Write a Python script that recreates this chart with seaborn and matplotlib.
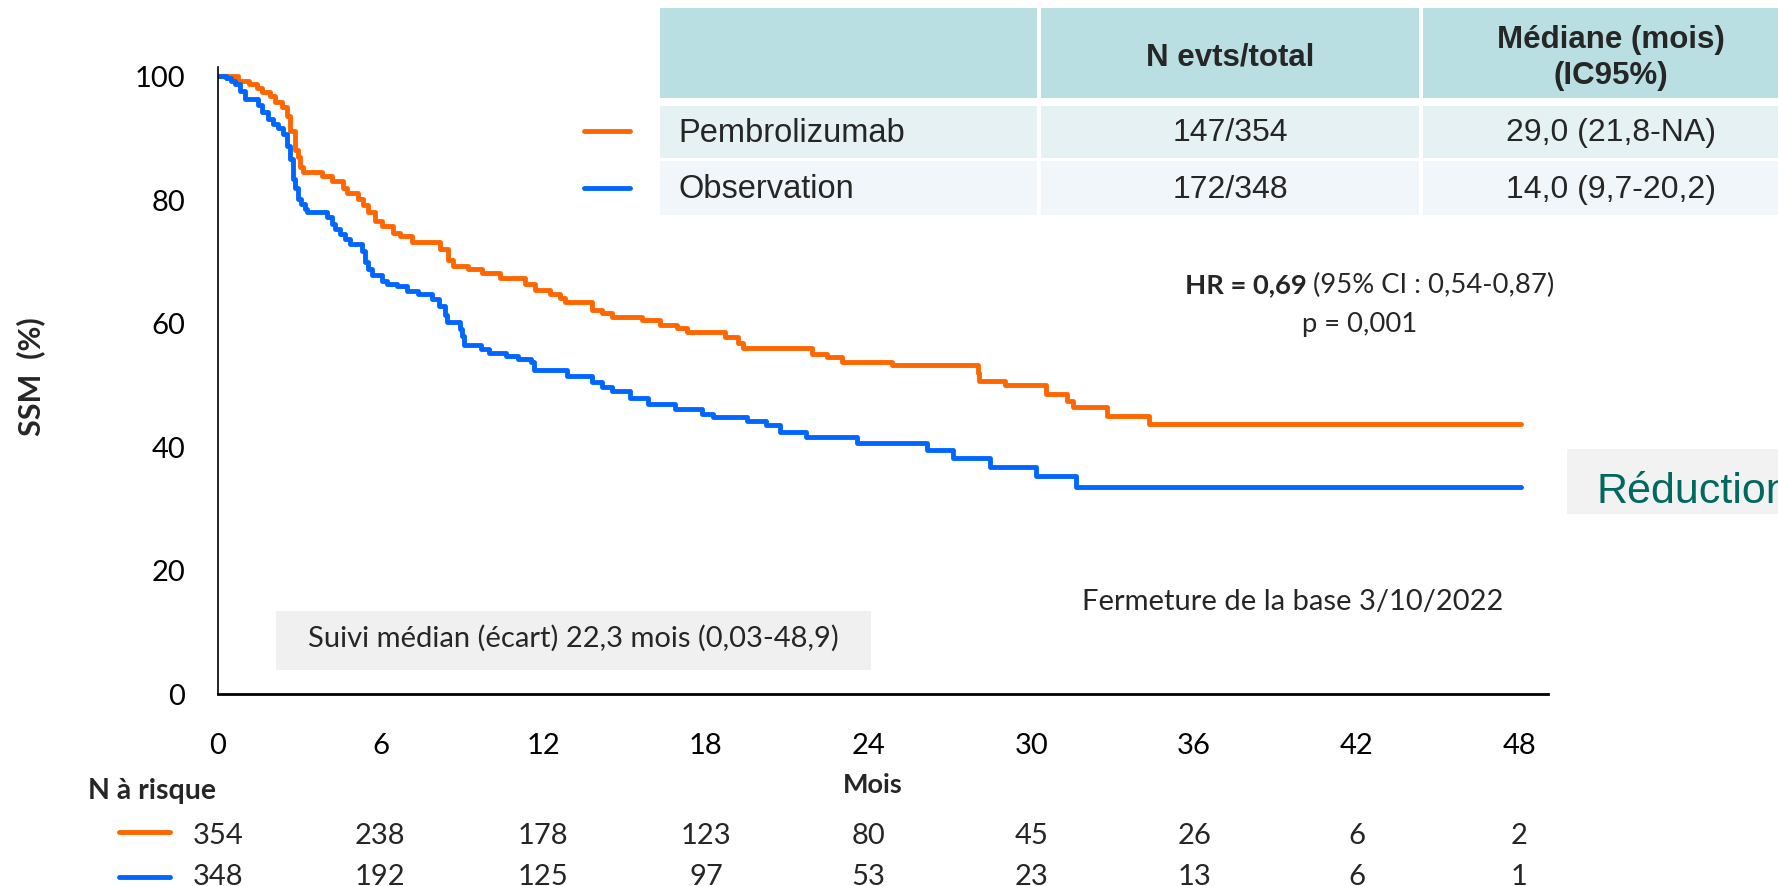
import numpy as np
import pandas as pd
import matplotlib
matplotlib.use("Agg")
import matplotlib.pyplot as plt
from matplotlib.patches import Rectangle
from matplotlib.lines import Line2D
from matplotlib.transforms import blended_transform_factory
import seaborn as sns

# ---- Kaplan-Meier curves (months, % survie sans métastase) ----
pembro_t = [0, 0.75, 1.15, 1.45, 1.62, 1.93, 2.11, 2.36, 2.57, 2.67, 2.85, 2.97, 3.03, 3.16,
            3.83, 4.20, 4.63, 4.76, 5.19, 5.37, 5.56, 5.80, 6.05, 6.48, 6.72, 7.15, 8.20, 8.50,
            8.69, 9.24, 9.73, 10.41, 11.33, 11.70, 12.25, 12.62, 12.81, 13.79, 14.16, 14.53,
            15.63, 16.31, 16.92, 17.29, 18.71, 19.20, 19.38, 21.90, 22.46, 23.01, 24.87, 28.02,
            28.08, 29.03, 30.54, 31.33, 31.53, 32.78, 34.32, 48.05]
pembro_s = [100, 99.2, 98.7, 98.0, 97.4, 96.7, 95.7, 94.9, 93.5, 91.1, 87.9, 86.8, 85.2, 84.4,
            83.8, 83.0, 81.9, 81.0, 80.0, 79.0, 77.9, 76.5, 75.7, 74.6, 74.1, 73.1, 71.9, 70.1,
            69.2, 68.7, 68.1, 67.2, 66.3, 65.3, 64.6, 64.0, 63.3, 62.0, 61.6, 61.0,
            60.5, 59.6, 59.1, 58.5, 57.7, 56.8, 55.9, 55.0, 54.4, 53.7, 53.1, 51.9,
            50.6, 50.0, 48.5, 47.4, 46.3, 45.0, 43.6, 43.6]

obs_t = [0, 0.30, 0.50, 0.64, 0.82, 1.01, 1.50, 1.65, 1.85, 2.05, 2.24, 2.40, 2.55, 2.67,
         2.77, 2.86, 2.96, 3.06, 3.22, 3.31, 4.02, 4.20, 4.33, 4.51, 4.69, 4.88, 5.31, 5.43,
         5.56, 5.68, 6.05, 6.23, 6.60, 6.97, 7.40, 7.89, 8.17, 8.38, 8.45, 8.94, 9.01, 9.08,
         9.72, 10.0, 10.64, 11.06, 11.55, 11.68, 12.87, 13.79, 14.16, 14.53, 15.20, 15.88,
         16.86, 17.85, 18.25, 19.51, 20.20, 20.75, 21.70, 23.58, 26.15, 27.11, 28.47, 30.17,
         31.65, 48.05]
obs_s = [100, 99.7, 99.2, 98.6, 97.6, 96.2, 95.2, 94.2, 93.0, 92.2, 91.5, 90.6, 88.6, 86.5,
         83.3, 81.8, 80.1, 79.2, 78.5, 77.9, 77.1, 76.0, 75.2, 74.4, 73.6, 72.8, 71.7, 69.8,
         68.7, 67.7, 66.8, 66.3, 65.9, 65.2, 64.7, 63.9, 62.8, 61.2, 60.1, 59.0, 57.9, 56.4,
         55.7, 55.2, 54.7, 54.1, 53.6, 52.3, 51.4, 50.4, 49.6, 48.9, 47.9, 46.9,
         46.1, 45.2, 44.7, 44.1, 43.4, 42.3, 41.5, 40.6, 39.4, 38.1, 36.6, 35.2,
         33.4, 33.4]

arms = ["Pembrolizumab", "Observation"]
arm_colors = {"Pembrolizumab": "#FF6600", "Observation": "#0066FF"}

# ---- Summary table ----
table_header = ["N evts/total", "Médiane (mois)\n(IC95%)"]
events_total = ["147/354", "172/348"]
median_ci = ["29,0 (21,8-NA)", "14,0 (9,7-20,2)"]

# ---- Numbers at risk ----
risk_months = [0, 6, 12, 18, 24, 30, 36, 42, 48]
risk_pembro = [354, 238, 178, 123, 80, 45, 26, 6, 2]
risk_obs = [348, 192, 125, 97, 53, 23, 13, 6, 1]

y_ticks = [0, 20, 40, 60, 80, 100]

df = pd.concat([
    pd.DataFrame({"Mois": pembro_t, "SSM": pembro_s, "Bras": arms[0]}),
    pd.DataFrame({"Mois": obs_t, "SSM": obs_s, "Bras": arms[1]}),
], ignore_index=True)

sns.set_theme(style="white")
plt.rcParams["font.family"] = ["Lato", "DejaVu Sans"]

W, H = 1778, 887
fig = plt.figure(figsize=(W / 100, H / 100), dpi=100)


def fx(x):
    return x / W


def fy(y):
    return 1 - y / H


ax = fig.add_axes([fx(217.7), fy(694.5), fx(1548) - fx(217.7), fy(68.1) - fy(694.5)])

sns.lineplot(data=df, x="Mois", y="SSM", hue="Bras", palette=arm_colors,
             drawstyle="steps-post", linewidth=3.5, estimator=None, sort=False,
             legend=False, ax=ax)

ax.set_xlim(0, 49.05)
ax.set_ylim(0, 101.4)
ax.set_xticks(risk_months)
ax.set_yticks(y_ticks)
ax.set_xlabel("")
ax.set_ylabel("")
ax.tick_params(axis="both", direction="out", length=14.5, width=1.0, color="black",
               labelsize=21, labelcolor="black")
ax.tick_params(axis="x", pad=13)
ax.tick_params(axis="y", pad=9)
for side in ["top", "right"]:
    ax.spines[side].set_visible(False)
ax.spines["left"].set_linewidth(1.2)
ax.spines["bottom"].set_linewidth(2.0)
ax.spines["left"].set_color("black")
ax.spines["bottom"].set_color("black")
ax.set_facecolor("white")

# axis titles
fig.text(fx(31), fy(377), "SSM  (%)", rotation=90, ha="center", va="center",
         fontsize=22, fontweight="bold")
fig.text(fx(873), fy(793), "Mois", ha="center", va="baseline", fontsize=19.5, fontweight="bold")
fig.text(fx(88), fy(799), "N à risque", ha="left", va="baseline", fontsize=20.5,
         fontweight="bold")

# numbers at risk
tr = blended_transform_factory(ax.transData, fig.transFigure)
for m, a, b in zip(risk_months, risk_pembro, risk_obs):
    ax.text(m, fy(844), str(a), transform=tr, ha="center", va="baseline", fontsize=21)
    ax.text(m, fy(885), str(b), transform=tr, ha="center", va="baseline", fontsize=21)
for yy, arm in zip([833, 878], arms):
    fig.add_artist(Line2D([fx(119), fx(170)], [fy(yy), fy(yy)], color=arm_colors[arm],
                          linewidth=3.5, transform=fig.transFigure))

# summary table
table_font = ["Liberation Sans", "DejaVu Sans"]
cols = [(660, 1037), (1041, 1419), (1423, 1800)]
rows = [(9, 99, "#B9DFE2"), (107, 159, "#E5F1F3"), (162, 216, "#F0F6F9")]
for (y0, y1, c) in rows:
    for (x0, x1) in cols:
        fig.add_artist(Rectangle((fx(x0), fy(y1)), fx(x1) - fx(x0), fy(y0) - fy(y1),
                                 transform=fig.transFigure, facecolor=c, edgecolor="none"))
fig.text(fx(1230), fy(58), table_header[0], ha="center", va="center", fontsize=22.5,
         fontweight="bold", family=table_font)
fig.text(fx(1611), fy(58), table_header[1], ha="center", va="center", fontsize=22.5,
         fontweight="bold", family=table_font, linespacing=1.25)
for i, yy in enumerate([133, 190]):
    fig.add_artist(Line2D([fx(584), fx(630)], [fy(yy - 1), fy(yy - 1)],
                          color=arm_colors[arms[i]], linewidth=3.5,
                          transform=fig.transFigure))
    fig.text(fx(678), fy(yy), arms[i], ha="left", va="center", fontsize=23.5,
             family=table_font)
    fig.text(fx(1230), fy(yy), events_total[i], ha="center", va="center", fontsize=23,
             family=table_font)
    fig.text(fx(1611), fy(yy), median_ci[i], ha="center", va="center", fontsize=23,
             family=table_font)

# hazard ratio
hr_bold = fig.text(fx(1185), fy(293), "HR = 0,69 ", ha="left", va="baseline",
                   fontsize=19.7, fontweight="bold")
fig.canvas.draw()
bb = hr_bold.get_window_extent()
fig.text(bb.x1 / W, fy(293), "(95% CI : 0,54-0,87)", ha="left", va="baseline", fontsize=19.7)
fig.text(fx(1360), fy(332), "p = 0,001", ha="center", va="baseline", fontsize=19.7)

fig.text(fx(1293), fy(610), "Fermeture de la base 3/10/2022", ha="center", va="baseline",
         fontsize=21)

fig.add_artist(Rectangle((fx(276), fy(671)), fx(871) - fx(276), fy(612) - fy(671),
                         transform=fig.transFigure, facecolor="#F0F0F0", edgecolor="none"))
fig.text(fx(573), fy(647), "Suivi médian (écart) 22,3 mois (0,03-48,9)", ha="center",
         va="baseline", fontsize=21)

fig.add_artist(Rectangle((fx(1567), fy(515)), fx(1800) - fx(1567), fy(450) - fy(515),
                         transform=fig.transFigure, facecolor="#F2F2F2", edgecolor="none"))
fig.text(fx(1597), fy(503), "Réduction", ha="left", va="baseline", fontsize=31,
         color="#00695F", family=table_font)

fig.savefig("out.png", dpi=100, facecolor="white")
